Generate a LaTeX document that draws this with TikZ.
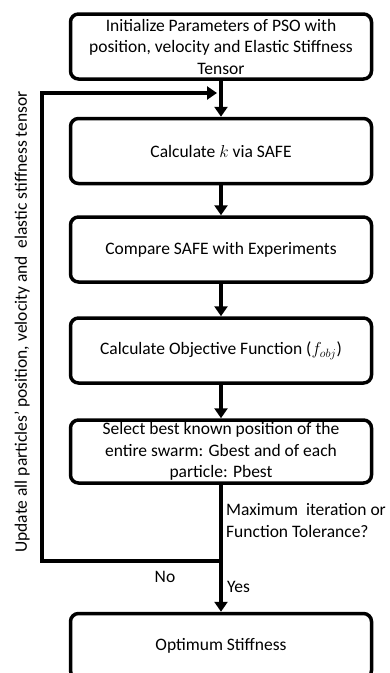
\documentclass[tikz,border=0pt]{standalone}
\usepackage{fontspec}
\setmainfont{Carlito}
\usetikzlibrary{positioning, arrows.meta, calc}

\tikzset{
  stepbox/.style={draw, line width=3.5pt, rounded corners=8pt, minimum width=301pt,
    minimum height=65pt, align=center, inner sep=0pt,
    font=\fontsize{17.5}{21.5}\selectfont},
  flow/.style={line width=3.5pt, -{Triangle[width=13pt,length=10pt]}},
  note/.style={font=\fontsize{17.5}{22}\selectfont, inner sep=0pt}
}

\begin{document}
\begin{tikzpicture}[x=1pt, y=-1pt]
  \path[use as bounding box, clip] (0,0) rectangle (390,673);

  % process steps
  \node[stepbox] (init) at (221,46.5) {Initialize Parameters of PSO with\\position, velocity and Elastic Stiffness\\Tensor};
  \node[stepbox] (safe) at (221,151) {Calculate $k$ via SAFE};
  \node[stepbox] (comp) at (221,249.5) {Compare SAFE with Experiments};
  \node[stepbox] (fobj) at (221,350.5) {Calculate Objective Function ($f_{obj}$)};
  \node[stepbox, minimum height=63pt] (best) at (221,451.5) {Select best known position of the\\entire swarm: Gbest and of each\\particle: Pbest};
  \node[stepbox] (opt) at (221,646) {Optimum Stiffness};

  % loop corners
  \coordinate (join) at (221,93);
  \coordinate (split) at (221,561);
  \coordinate (loopbl) at (42,561);
  \coordinate (looptl) at (42,93);

  \draw[flow] (init) -- (safe);
  \draw[flow] (safe) -- (comp);
  \draw[flow] (comp) -- (fobj);
  \draw[flow] (fobj) -- (best);
  \draw[flow] (best) -- (opt);
  \draw[flow, shorten >=4pt] (split) -- (loopbl) -- (looptl) -- (join);

  % labels
  \node[note, align=left, anchor=west] (cond) at (226,521) {Maximum\ \ iteration or\\Function Tolerance?};
  \node[note] (no) at (165,577) {No};
  \node[note, anchor=west] (yes) at (227,587) {Yes};
  \node[note, rotate=90] (upd) at (22,322) {Update all particles’ position, velocity and\ \ elastic stiffness tensor};
\end{tikzpicture}
\end{document}
